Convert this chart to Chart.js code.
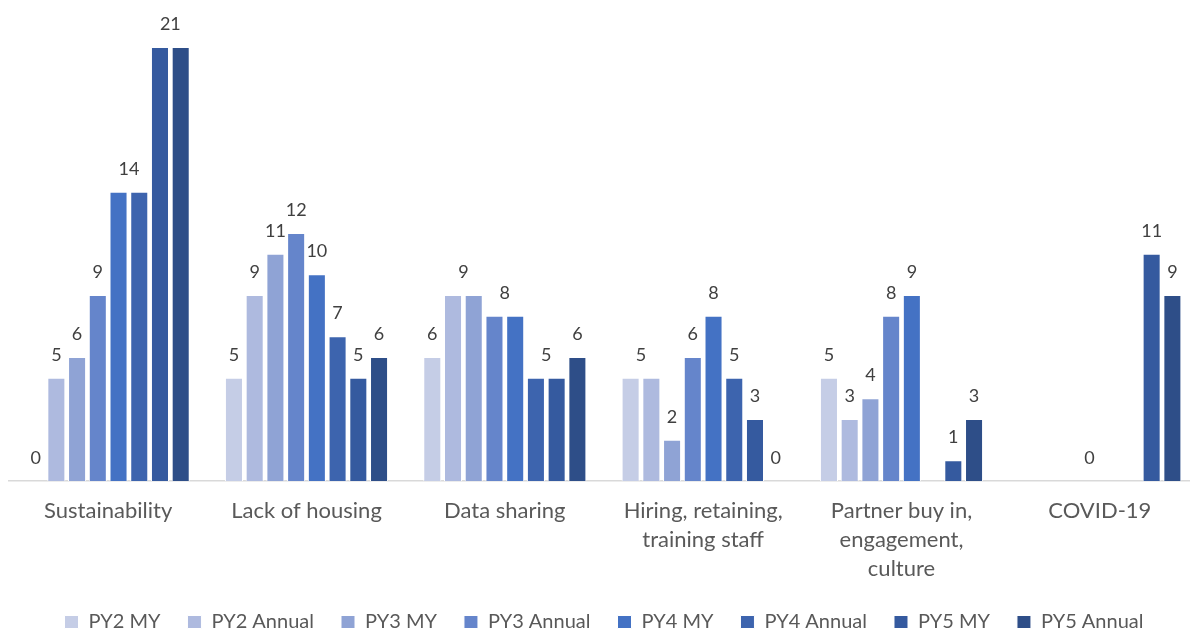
<!DOCTYPE html>
<html>
<head>
<meta charset="utf-8">
<script src="https://cdn.jsdelivr.net/npm/chart.js@4/dist/chart.umd.min.js"></script>
<style>
  html, body { margin: 0; padding: 0; background: #fff; overflow: hidden; }
  #wrap { position: relative; width: 1214px; height: 642px; }
</style>
</head>
<body>
<div id="wrap"><canvas id="chart"></canvas></div>
<script>
const categories = [
  'Sustainability',
  'Lack of housing',
  'Data sharing',
  ['Hiring, retaining,', 'training staff'],
  ['Partner buy in,', 'engagement,', 'culture'],
  'COVID-19'
];

const seriesNames = ['PY2 MY', 'PY2 Annual', 'PY3 MY', 'PY3 Annual', 'PY4 MY', 'PY4 Annual', 'PY5 MY', 'PY5 Annual'];
const seriesColors = ['#c5cde6', '#aebadf', '#8fa3d5', '#6585cb', '#4472c4', '#3d64ae', '#355a9f', '#2e4e88'];

// one array per series, one value per category (null = no bar)
const py2My     = [0, 5, 6, 5, 5, null];
const py2Annual = [5, 9, 9, 5, 3, null];
const py3My     = [6, 11, 9, 2, 4, null];
const py3Annual = [9, 12, 8, 6, 8, 0];
const py4My     = [14, 10, 8, 8, 9, null];
const py4Annual = [14, 7, 5, 5, null, null];
const py5My     = [21, 5, 5, 3, 1, 11];
const py5Annual = [21, 6, 6, 0, 3, 9];

const seriesValues = [py2My, py2Annual, py3My, py3Annual, py4My, py4Annual, py5My, py5Annual];

// value labels; equal neighbours share one label centred over the pair
const valueLabels = {
  id: 'valueLabels',
  afterDatasetsDraw(chart) {
    const ctx = chart.ctx;
    ctx.save();
    ctx.font = '18px Lato';
    ctx.fillStyle = '#404040';
    ctx.textAlign = 'center';
    ctx.textBaseline = 'alphabetic';
    categories.forEach((c, ci) => {
      let i = 0;
      while (i < seriesValues.length) {
        const v = seriesValues[i][ci];
        if (v === null) { i++; continue; }
        let j = i;
        while (j + 1 < seriesValues.length && seriesValues[j + 1][ci] === v) j++;
        const first = chart.getDatasetMeta(i).data[ci];
        const last = chart.getDatasetMeta(j).data[ci];
        const x = (first.x + last.x) / 2;
        ctx.fillText(String(v), x, first.y - 17);
        i = j + 1;
      }
    });
    ctx.restore();
  }
};

const ctx = document.getElementById('chart').getContext('2d');
new Chart(ctx, {
  type: 'bar',
  data: {
    labels: categories,
    datasets: seriesNames.map((name, i) => ({
      label: name,
      data: seriesValues[i],
      backgroundColor: seriesColors[i],
      borderColor: '#ffffff',
      borderWidth: 1,
      barPercentage: 0.87,
      categoryPercentage: 0.836
    }))
  },
  options: {
    responsive: true,
    maintainAspectRatio: false,
    animation: false,
    layout: { padding: { left: 9, right: 15, top: 47, bottom: 0 } },
    plugins: {
      legend: {
        position: 'bottom',
        labels: {
          font: { family: 'Lato', size: 20 },
          color: '#595959',
          boxWidth: 14,
          boxHeight: 13,
          padding: 27
        }
      },
      tooltip: { enabled: false }
    },
    scales: {
      x: {
        grid: { display: false },
        border: { display: true, color: '#d9d9d9', width: 1.5 },
        afterFit(scale) { scale.height = 104; },
        ticks: {
          font: { family: 'Lato', size: 22, lineHeight: 1.32 },
          color: '#595959',
          padding: 7,
          maxRotation: 0,
          autoSkip: false
        }
      },
      y: {
        display: false,
        min: 0,
        max: 21
      }
    }
  },
  plugins: [valueLabels]
});
</script>
</body>
</html>
